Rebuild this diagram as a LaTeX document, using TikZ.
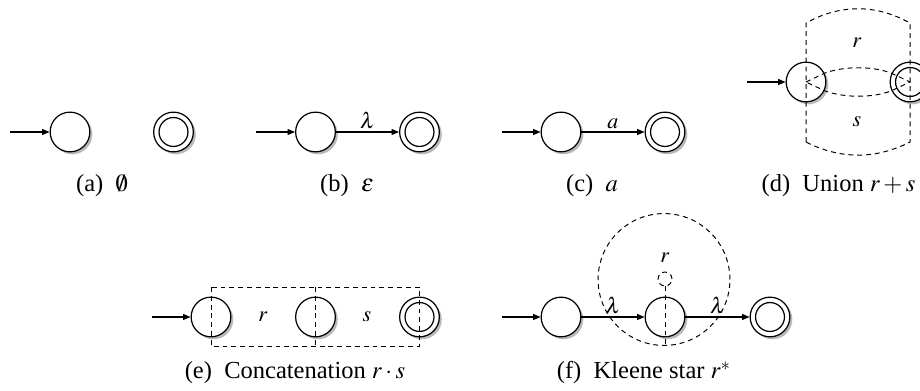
\documentclass[tikz,border=0pt]{standalone}
\usepackage{mathptmx}
\usepackage{fontspec}
\newfontfamily\capfont{Liberation Serif}
\usetikzlibrary{arrows.meta,shadows}
\begin{document}
\begin{tikzpicture}[x=0.408pt,y=-0.408pt,
  st/.style={circle, draw, line width=0.5pt, minimum size=16.2pt, inner sep=0pt, fill=white,
    drop shadow={shadow xshift=1pt, shadow yshift=-1pt, fill=black!55}},
  acc/.style={st, path picture={\draw[line width=0.5pt] (path picture bounding box.center) circle (5.9pt);}},
  dsh/.style={draw, line width=0.4pt, dash pattern=on 2pt off 1.6pt},
  tr/.style={-{Triangle[length=3pt,width=2.4pt]}, line width=0.45pt},
  lbl/.style={font=\fontsize{9}{10}\selectfont, inner sep=1pt},
  capt/.style={font=\capfont\fontsize{10}{12}\selectfont, anchor=base, inner sep=0pt}]
\useasboundingbox (0,0) rectangle (920,391);
\clip (0,0) rectangle (920,391);

% (a)
\coordinate (a0) at (10,132);
\node[st] (a1) at (70,132) {};
\node[acc] (a2) at (173.5,132) {};
\draw[tr] (a0) -- (a1);
\node[capt] (ca) at (102,192) {(a)~~$\emptyset$};

% (b)
\coordinate (b0) at (256,132);
\node[st] (b1) at (315.5,132) {};
\node[acc] (b2) at (419.5,132) {};
\draw[tr] (b0) -- (b1);
\draw[tr] (b1) -- node[lbl, above] (bl) {$\lambda$} (b2);
\node[capt] (cb) at (347,192) {(b)~~$\varepsilon$};

% (c)
\coordinate (c0) at (502,132);
\node[st] (c1) at (561,132) {};
\node[acc] (c2) at (665,132) {};
\draw[tr] (c0) -- (c1);
\draw[tr] (c1) -- node[lbl, above] (cl) {$a$} (c2);
\node[capt] (cc) at (592,192) {(c)~~$a$};

% (d)
\coordinate (d0) at (747,82);
\node[st] (d1) at (806,82) {};
\node[acc] (d2) at (910,82) {};
\draw[tr] (d0) -- (d1);
\draw[dsh] (806,142) -- (806,23) .. controls (840,4) and (876,4) .. (910,23) -- (910,142)
  .. controls (876,159.5) and (840,159.5) .. (806,142);
\draw[dsh] (806,82) -- (825,73) .. controls (845,66) and (872,66) .. (891,73) -- (910,82)
  -- (891,91) .. controls (872,98) and (845,98) .. (825,91) -- cycle;
\node[lbl] (dr) at (857,43) {$r$};
\node[lbl] (ds) at (857,122) {$s$};
\node[capt] (cd) at (838.5,192) {(d)~~Union $r+s$};

% (e)
\coordinate (e0) at (152,317);
\node[st] (e1) at (211,317) {};
\node[st] (e2) at (315.5,317) {};
\node[acc] (e3) at (419.5,317) {};
\draw[tr] (e0) -- (e1);
\draw[dsh] (e1.center |- 0,287) rectangle (e3.center |- 0,346);
\draw[dsh] (e2.center |- 0,287) -- (e2.center |- 0,346);
\node[lbl] (er) at (263,317) {$r$};
\node[lbl] (es) at (367,317) {$s$};
\node[capt] (ce) at (295,379) {(e)~~Concatenation $r\cdot s$};

% (f)
\coordinate (f0) at (502,317);
\node[st] (f1) at (561,317) {};
\node[st] (f2) at (665,317) {};
\node[acc] (f3) at (770,317) {};
\draw[tr] (f0) -- (f1);
\draw[tr] (f1) -- node[lbl, above] (fl1) {$\lambda$} (f2);
\draw[tr] (f2) -- node[lbl, above] (fl2) {$\lambda$} (f3);
\draw[dsh] (664,279.5) circle (26.9pt);
\node[circle, dsh, minimum size=5.7pt, inner sep=0pt] (fs) at (665,279) {};
\draw[dsh] (fs.south) -- (665,345.5);
\node[lbl] (fr) at (665,258) {$r$};
\node[capt] (cf) at (644,379) {(f)~~Kleene star $r^{*}$};
\end{tikzpicture}
\end{document}
